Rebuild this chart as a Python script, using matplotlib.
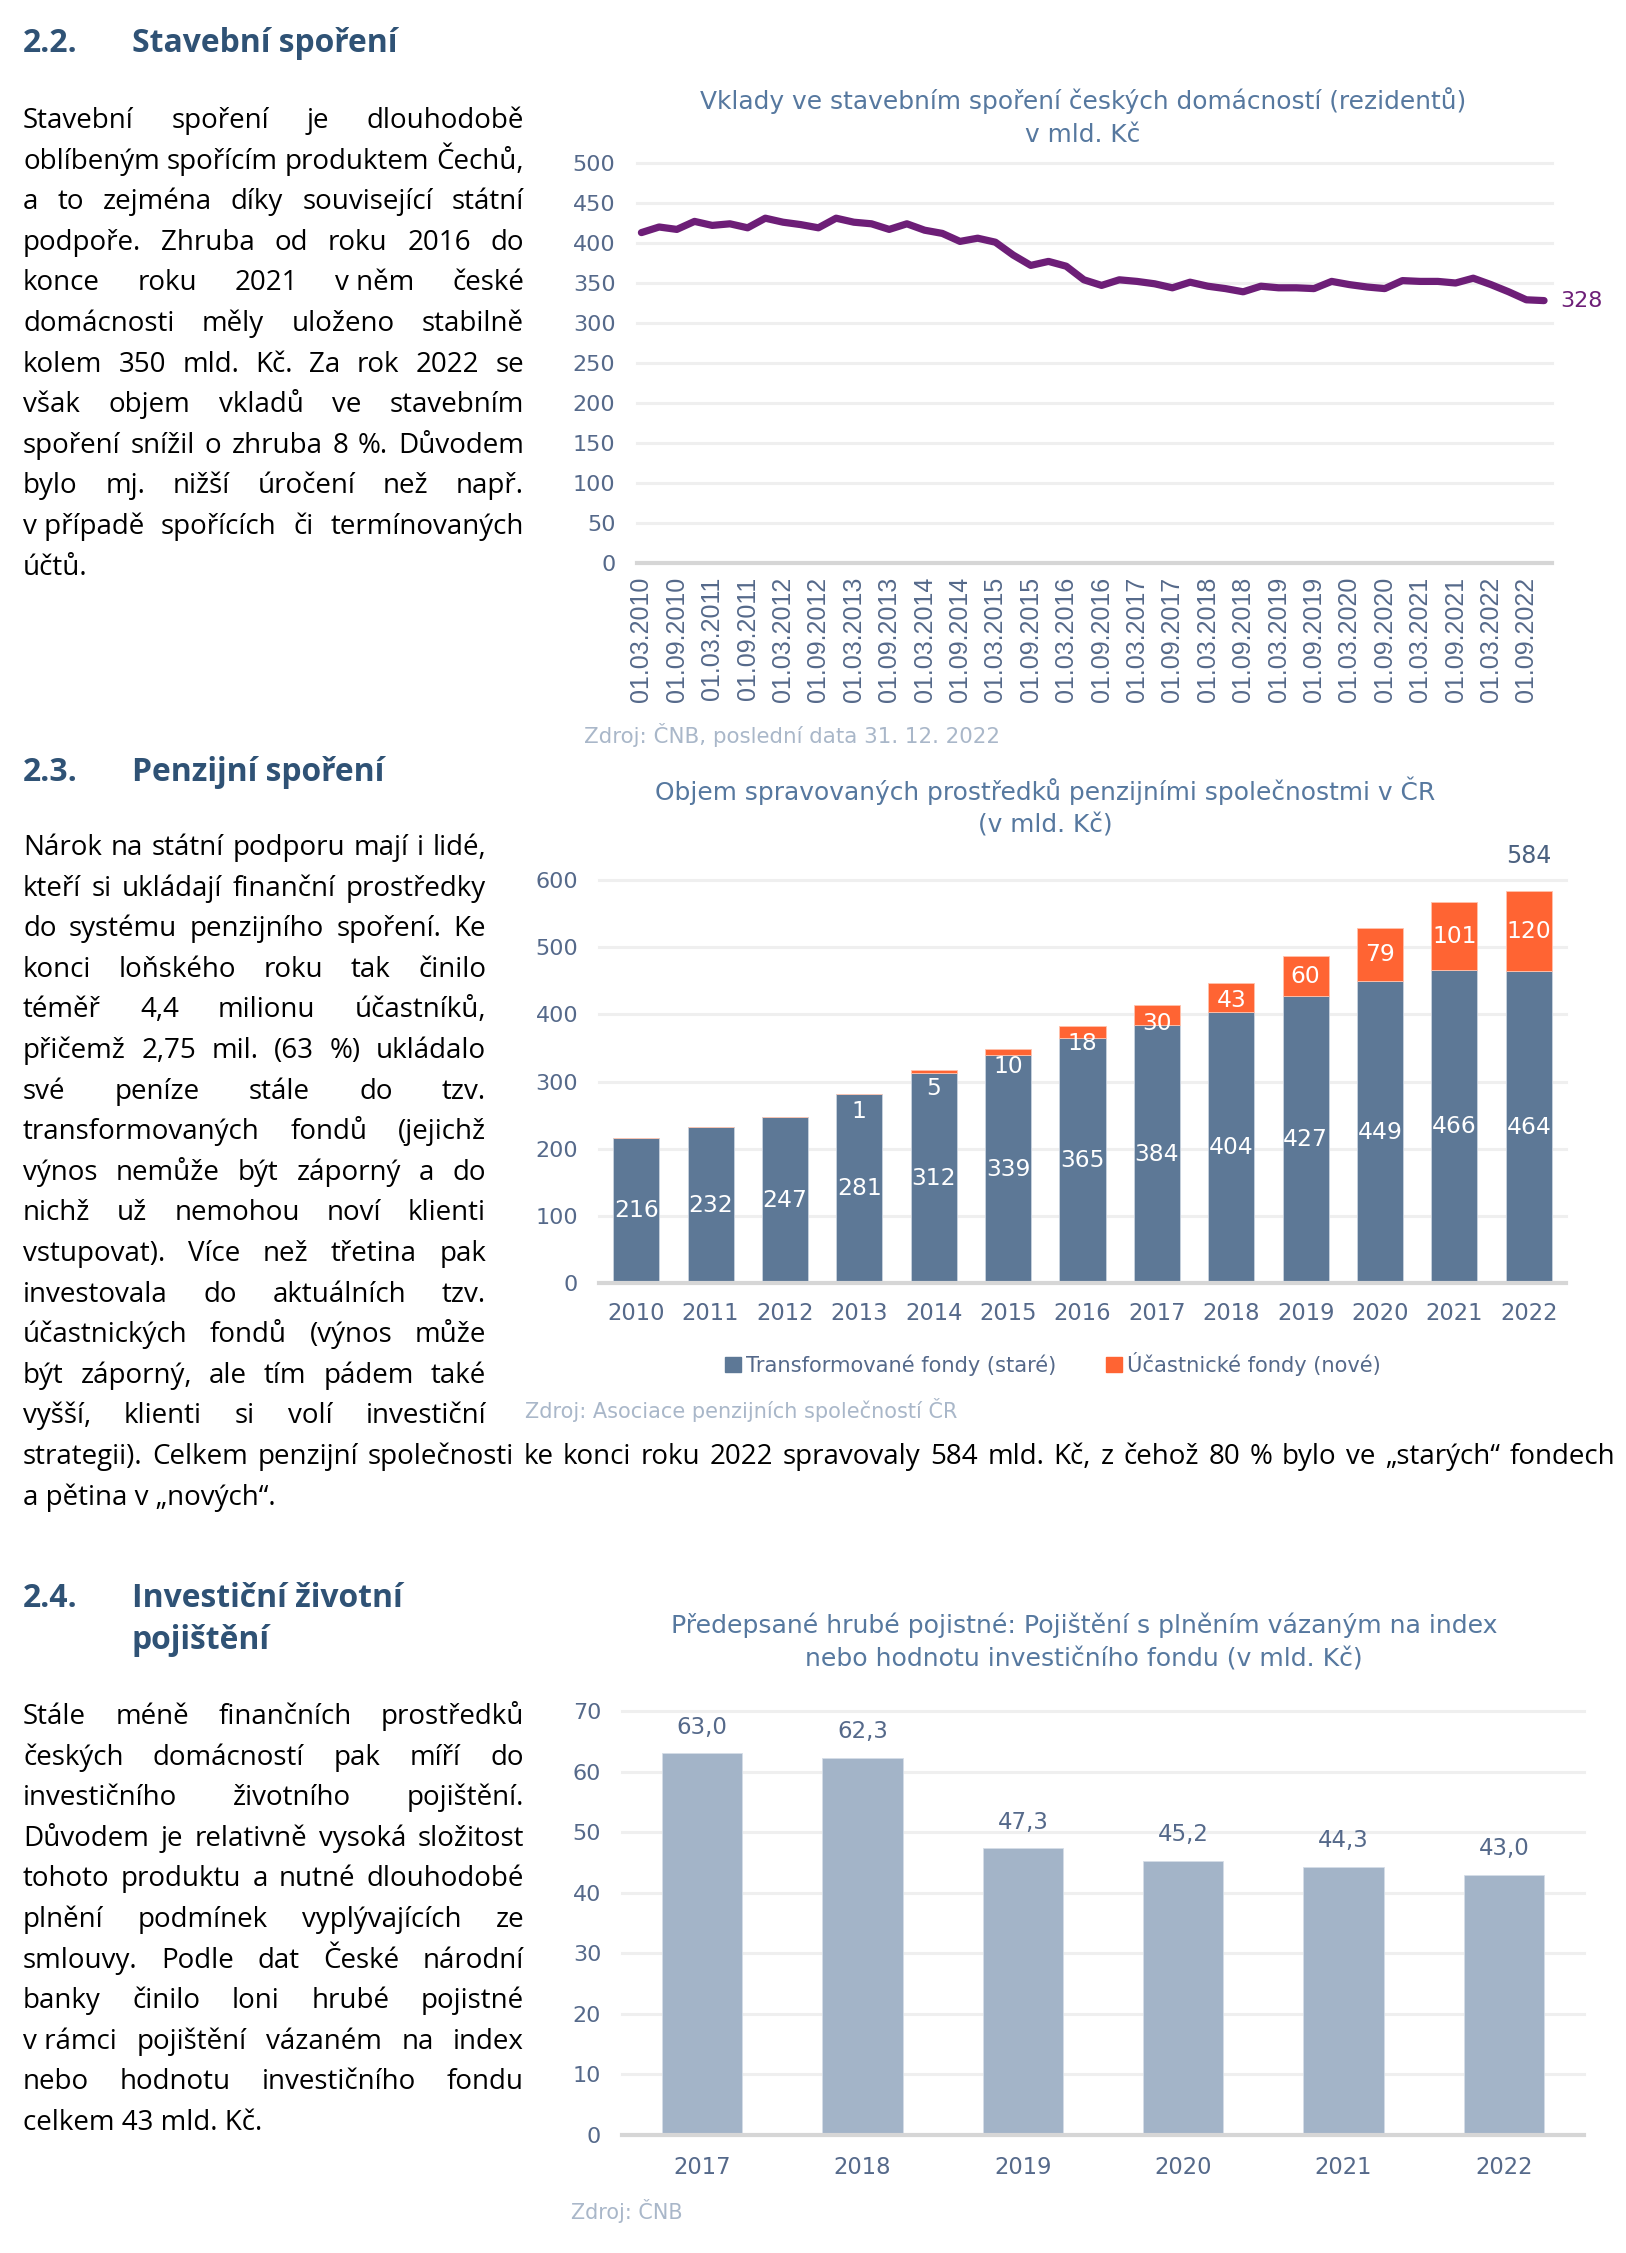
import matplotlib
matplotlib.use("Agg")
import matplotlib.pyplot as plt
from matplotlib.font_manager import FontProperties
from matplotlib.patches import Patch
import numpy as np

# ---------------- data ----------------
# Chart 1: deposits in building savings (quarterly, Mar 2010 - Dec 2022), bn CZK
deposit_values = [413, 420, 417, 427, 422, 424, 419, 431, 426, 423, 419, 431,
                  426, 424, 417, 424, 416, 412, 402, 406, 401, 385, 372, 377,
                  371, 354, 347, 354, 352, 349, 344, 351, 346, 343, 339, 346,
                  344, 344, 343, 352, 348, 345, 343, 353, 352, 352, 350, 356,
                  348, 339, 329, 328]
date_labels = ["01.03.2010", "01.09.2010", "01.03.2011", "01.09.2011",
               "01.03.2012", "01.09.2012", "01.03.2013", "01.09.2013",
               "01.03.2014", "01.09.2014", "01.03.2015", "01.09.2015",
               "01.03.2016", "01.09.2016", "01.03.2017", "01.09.2017",
               "01.03.2018", "01.09.2018", "01.03.2019", "01.09.2019",
               "01.03.2020", "01.09.2020", "01.03.2021", "01.09.2021",
               "01.03.2022", "01.09.2022"]
last_value_label = "328"

# Chart 2: pension funds, bn CZK
pension_years = ["2010", "2011", "2012", "2013", "2014", "2015", "2016",
                 "2017", "2018", "2019", "2020", "2021", "2022"]
old_funds = [216, 232, 247, 281, 312, 339, 365, 384, 404, 427, 449, 466, 464]
new_funds = [0, 0, 0, 1, 5, 10, 18, 30, 43, 60, 79, 101, 120]
pension_legend = ["Transformované fondy (staré)", "Účastnické fondy (nové)"]

# Chart 3: unit-linked premiums, bn CZK
premium_years = ["2017", "2018", "2019", "2020", "2021", "2022"]
premium_values = [63.0, 62.3, 47.3, 45.2, 44.3, 43.0]

# ---------------- texts ----------------
title1 = ["Vklady ve stavebním spoření českých domácností (rezidentů)", "v mld. Kč"]
title2 = ["Objem spravovaných prostředků penzijními společnostmi v ČR", "(v mld. Kč)"]
title3 = ["Předepsané hrubé pojistné: Pojištění s plněním vázaným na index",
          "nebo hodnotu investičního fondu (v mld. Kč)"]
source1 = "Zdroj: ČNB, poslední data 31. 12. 2022"
source2 = "Zdroj: Asociace penzijních společností ČR"
source3 = "Zdroj: ČNB"

para1 = ["Stavební spoření je dlouhodobě",
         "oblíbeným spořícím produktem Čechů,",
         "a to zejména díky související státní",
         "podpoře. Zhruba od roku 2016 do",
         "konce roku 2021 v\u00a0něm české",
         "domácnosti měly uloženo stabilně",
         "kolem 350 mld. Kč. Za rok 2022 se",
         "však objem vkladů ve stavebním",
         "spoření snížil o zhruba 8 %. Důvodem",
         "bylo mj. nižší úročení než např.",
         "v\u00a0případě spořících či termínovaných",
         "účtů."]
para2 = ["Nárok na státní podporu mají i lidé,",
         "kteří si ukládají finanční prostředky",
         "do systému penzijního spoření. Ke",
         "konci loňského roku tak činilo",
         "téměř 4,4 milionu účastníků,",
         "přičemž 2,75 mil. (63 %) ukládalo",
         "své peníze stále do tzv.",
         "transformovaných fondů (jejichž",
         "výnos nemůže být záporný a do",
         "nichž už nemohou noví klienti",
         "vstupovat). Více než třetina pak",
         "investovala do aktuálních tzv.",
         "účastnických fondů (výnos může",
         "být záporný, ale tím pádem také",
         "vyšší, klienti si volí investiční",
         "strategii). Celkem penzijní společnosti ke konci roku 2022 spravovaly 584 mld. Kč, z čehož 80 % bylo ve „starých“ fondech",
         "a pětina v „nových“."]
para3 = ["Stále méně finančních prostředků",
         "českých domácností pak míří do",
         "investičního životního pojištění.",
         "Důvodem je relativně vysoká složitost",
         "tohoto produktu a nutné dlouhodobé",
         "plnění podmínek vyplývajících ze",
         "smlouvy. Podle dat České národní",
         "banky činilo loni hrubé pojistné",
         "v\u00a0rámci pojištění vázaném na index",
         "nebo hodnotu investičního fondu",
         "celkem 43 mld. Kč."]

# ---------------- style ----------------
W, H, DPI = 1626, 2253, 100
PURPLE = "#6d1e77"
OLD = "#5d7896"
NEW = "#ff6433"
LIGHT = "#a3b4c8"
TICK = "#55698a"
TITLE = "#56789f"
HEAD = "#2f5275"
SRC = "#a9b7c9"
GRID = "#efefef"
BASE = "#d6d6d6"
BODY_FONT = "Open Sans"
CHART_FONT = "DejaVu Sans"

plt.rcParams["font.family"] = [CHART_FONT]
fig = plt.figure(figsize=(W / DPI, H / DPI), dpi=DPI)
fig.patch.set_facecolor("white")
renderer = fig.canvas.get_renderer()


def fx(x):
    return x / W


def fy(y):
    return 1 - y / H


def width_of(s, fp):
    w, h, d = renderer.get_text_width_height_descent(s, fp, ismath=False)
    return w


def fit_size(s, target, family, weight="normal"):
    fp = FontProperties(family=family, weight=weight, size=10)
    return 10 * target / width_of(s, fp)


def px_axes(x0, y0, x1, y1):
    return fig.add_axes([fx(x0), fy(y1), (x1 - x0) / W, (y1 - y0) / H])


def style_axes(ax):
    for sp in ax.spines.values():
        sp.set_visible(False)
    ax.set_facecolor("none")


# ---------------- body text ----------------
body_size = min(fit_size("kteří si ukládají finanční prostředky", 463, BODY_FONT),
                fit_size("oblíbeným spořícím produktem Čechů,", 501, BODY_FONT),
                fit_size(para2[15], 1592, BODY_FONT))
body_fp = FontProperties(family=BODY_FONT, size=body_size)


def draw_paragraph(lines, x0, rights, y0, step):
    for i, line in enumerate(lines):
        y = y0 + i * step
        words = line.split(" ")
        x1 = rights[i] if isinstance(rights, list) else rights
        if i == len(lines) - 1 or len(words) == 1:
            fig.text(fx(x0), fy(y), line, fontproperties=body_fp,
                     va="baseline", ha="left", color="#000000")
            continue
        widths = [width_of(w, body_fp) for w in words]
        gap = (x1 - x0 - sum(widths)) / (len(words) - 1)
        x = x0
        for w, ww in zip(words, widths):
            fig.text(fx(x), fy(y), w, fontproperties=body_fp,
                     va="baseline", ha="left", color="#000000")
            x += ww + gap


STEP = 40.6
draw_paragraph(para1, 23, 524, 128, STEP)
draw_paragraph(para2, 23, [486] * 15 + [1615, 1615], 855, STEP)
draw_paragraph(para3, 23, 524, 1724, STEP)

# headings
head_size = fit_size("Stavební spoření", 267, BODY_FONT, "bold")
head_fp = FontProperties(family=BODY_FONT, weight="bold", size=head_size)
for num, lines, yb in [("2.2.", ["Stavební spoření"], 52),
                       ("2.3.", ["Penzijní spoření"], 781),
                       ("2.4.", ["Investiční životní", "pojištění"], 1607)]:
    fig.text(fx(23), fy(yb), num, fontproperties=head_fp, color=HEAD, va="baseline")
    for k, ln in enumerate(lines):
        fig.text(fx(132), fy(yb + k * 42), ln, fontproperties=head_fp,
                 color=HEAD, va="baseline")

# ---------------- chart titles & sources ----------------
for lines, target, xc, ys in [(title1, 767, 1083, (101, 135)),
                              (title2, 781, 1045, (791, 826)),
                              (title3, 827, 1084, (1625, 1659))]:
    sz = fit_size(lines[0], target, CHART_FONT)
    for ln, yy in zip(lines, ys):
        fig.text(fx(xc), fy(yy), ln, ha="center", va="center", fontsize=sz,
                 color=TITLE, family=CHART_FONT)

for s, target, x0, yy in [(source1, 416, 584, 735),
                          (source2, 433, 525, 1410),
                          (source3, 112, 571, 2211)]:
    sz = fit_size(s, target, CHART_FONT)
    fig.text(fx(x0), fy(yy), s, ha="left", va="center", fontsize=sz,
             color=SRC, family=CHART_FONT)

TICK_SIZE = 16

# ---------------- chart 1: line ----------------
ax1 = px_axes(637, 163, 1552, 563)
style_axes(ax1)
xq = np.arange(len(deposit_values))
for v in range(50, 501, 50):
    ax1.axhline(v, color=GRID, lw=2.2, zorder=0, clip_on=False)
ax1.axhline(0, color=BASE, lw=3, zorder=1, clip_on=False)
ax1.plot(xq, deposit_values, color=PURPLE, lw=5.2, solid_joinstyle="round",
         solid_capstyle="round", zorder=3, clip_on=False)
ax1.set_xlim(-0.25, 51.45)
ax1.set_ylim(0, 500)
ax1.set_yticks(range(0, 501, 50))
ax1.tick_params(axis="y", length=0, pad=15.5, labelsize=TICK_SIZE, labelcolor=TICK)
ax1.set_xticks(xq[::2])
ax1.set_xticklabels(date_labels, rotation=90, family="Liberation Sans", fontsize=18)
ax1.tick_params(axis="x", length=0, pad=10, labelcolor=TICK)
ax1.annotate(last_value_label, xy=(xq[-1], deposit_values[-1]), xytext=(12, 0),
             textcoords="offset points", va="center", ha="left",
             fontsize=TICK_SIZE, color=PURPLE, annotation_clip=False)

# ---------------- chart 2: stacked bars ----------------
ax2 = px_axes(599, 880, 1566, 1283)
style_axes(ax2)
xp = np.arange(len(pension_years))
for v in range(100, 601, 100):
    ax2.axhline(v, color=GRID, lw=2.2, zorder=0, clip_on=False)
ax2.bar(xp, old_funds, width=0.62, color=OLD, zorder=2, edgecolor="#c9d3df", linewidth=0.6)
ax2.bar(xp, new_funds, width=0.62, bottom=old_funds, color=NEW, zorder=2,
        edgecolor="#ffc2ad", linewidth=0.6)
ax2.axhline(0, color=BASE, lw=3, zorder=3, clip_on=False)
ax2.set_xlim(-0.5, len(pension_years) - 0.5)
ax2.set_ylim(0, 600)
ax2.set_yticks(range(0, 601, 100))
ax2.tick_params(axis="y", length=0, pad=15, labelsize=16, labelcolor=TICK)
ax2.set_xticks(xp)
ax2.set_xticklabels(pension_years)
ax2.tick_params(axis="x", length=0, pad=14, labelsize=16.3, labelcolor=TICK)
for i, (o, n) in enumerate(zip(old_funds, new_funds)):
    ax2.text(i, o / 2, str(o), ha="center", va="center", color="white",
             fontsize=16.8, zorder=4)
    if n > 0:
        ypos = min(o + n / 2, o + n - 27)
        ax2.text(i, ypos, str(n), ha="center", va="center", color="white",
                 fontsize=16.8, zorder=4)
total_last = old_funds[-1] + new_funds[-1]
ax2.annotate(str(total_last), xy=(xp[-1], total_last), xytext=(0, 25),
             textcoords="offset points", ha="center", va="center",
             fontsize=17, color="#4b6180", annotation_clip=False)
leg_size = fit_size(pension_legend[0], 311, CHART_FONT)
fig.legend([Patch(color=OLD), Patch(color=NEW)], pension_legend, loc="center",
           bbox_to_anchor=(fx(1053), fy(1364)), ncol=2, frameon=False,
           fontsize=leg_size, handlelength=0.75, handleheight=0.75,
           handletextpad=0.25, columnspacing=2.4, labelcolor=TICK,
           borderaxespad=0, borderpad=0)

# ---------------- chart 3: bars ----------------
ax3 = px_axes(622, 1711, 1584, 2135)
style_axes(ax3)
xy3 = np.arange(len(premium_years))
for v in range(10, 71, 10):
    ax3.axhline(v, color=GRID, lw=2.2, zorder=0, clip_on=False)
ax3.bar(xy3, premium_values, width=0.5, color=LIGHT, zorder=2,
        edgecolor="#d5dde7", linewidth=0.6)
ax3.axhline(0, color=BASE, lw=3, zorder=3, clip_on=False)
ax3.set_xlim(-0.5, len(premium_years) - 0.5)
ax3.set_ylim(0, 70)
ax3.set_yticks(range(0, 71, 10))
ax3.tick_params(axis="y", length=0, pad=15, labelsize=16, labelcolor=TICK)
ax3.set_xticks(xy3)
ax3.set_xticklabels(premium_years)
ax3.tick_params(axis="x", length=0, pad=15, labelsize=16.3, labelcolor=TICK)
for i, v in enumerate(premium_values):
    ax3.annotate(f"{v:.1f}".replace(".", ","), xy=(i, v), xytext=(0, 19),
                 textcoords="offset points", ha="center", va="center",
                 fontsize=16.5, color=TICK, annotation_clip=False)

fig.savefig("out.png", dpi=DPI, facecolor="white")
